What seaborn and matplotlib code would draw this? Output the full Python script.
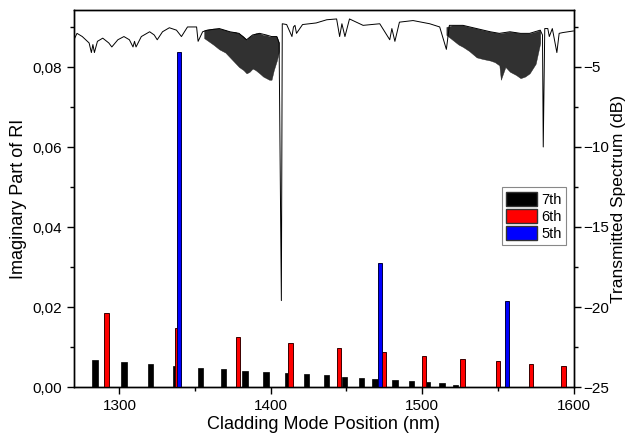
# Cladding mode imaginary RI vs transmitted spectrum
import numpy as np
import matplotlib
matplotlib.use("Agg")
import matplotlib.pyplot as plt
from matplotlib.ticker import FuncFormatter, MultipleLocator
from matplotlib.patches import Patch
import seaborn as sns

# ── Data: imaginary part of RI per cladding mode order ─────
pos_7th = [1284, 1303, 1320.5, 1337, 1353.6, 1368.8, 1383, 1397, 1411, 1423.7,
           1436.7, 1448.6, 1459.8, 1469, 1482, 1493, 1503.6, 1513, 1522]
val_7th = [0.0068, 0.0062, 0.0057, 0.0052, 0.0048, 0.0044, 0.0041, 0.0037, 0.0036, 0.0032,
           0.0029, 0.0026, 0.0023, 0.0020, 0.0017, 0.0015, 0.0013, 0.0009, 0.0005]

pos_6th = [1291.4, 1338, 1378.5, 1413, 1445, 1475, 1501.3, 1526.6, 1550, 1572, 1593.5]
val_6th = [0.0185, 0.0148, 0.0125, 0.0109, 0.0097, 0.0087, 0.0078, 0.0070, 0.0064, 0.0058, 0.0053]

pos_5th = [1339.5, 1472, 1556]
val_5th = [0.0837, 0.0310, 0.0214]

# ── Data: transmitted spectrum (dB) ────
spec_nm = [1270, 1272, 1275.5, 1280, 1281.5, 1282.5, 1283.5, 1285.5, 1289, 1293,
           1295, 1299, 1303, 1306.6, 1309, 1310, 1311, 1314.5, 1320, 1323,
           1325, 1328.5, 1333, 1337.7, 1341, 1345, 1351, 1352, 1355, 1358,
           1366, 1373, 1379, 1384, 1388, 1392.6, 1397, 1400.5, 1404, 1405.5,
           1407, 1407.6, 1410.5, 1414, 1415, 1416, 1417, 1421, 1430, 1437,
           1443.5, 1445.5, 1447, 1449, 1452, 1461, 1472, 1478.6, 1480, 1482,
           1485, 1494, 1505, 1511.6, 1516, 1518, 1527, 1536, 1545, 1551,
           1558, 1565, 1571, 1578, 1579.5, 1580, 1581, 1583, 1584, 1586,
           1589, 1590.5, 1593, 1600]
spec_db = [-3.3, -2.9, -3.1, -3.5, -4.1, -3.6, -4.1, -3.4, -3.2, -3.5,
           -3.75, -3.3, -3.1, -3.3, -3.75, -3.4, -3.75, -3.1, -2.8, -3.0,
           -3.3, -2.8, -2.55, -2.7, -3.1, -2.5, -2.5, -3.4, -2.8, -2.7,
           -2.6, -2.8, -2.9, -3.3, -3.0, -2.9, -3.0, -3.1, -3.1, -3.5,
           -19.6, -2.3, -2.35, -3.1, -2.5, -2.4, -2.9, -2.35, -2.25, -2.05,
           -2.0, -3.1, -2.3, -3.1, -2.0, -2.4, -2.3, -3.3, -2.6, -3.4,
           -2.2, -2.1, -2.3, -2.5, -3.9, -2.4, -2.4, -2.6, -2.8, -2.9,
           -2.8, -2.9, -2.9, -2.7, -3.0, -10.0, -2.6, -2.6, -3.1, -2.6,
           -4.1, -2.9, -2.85, -2.75]

# dense fringe bands (upper / lower envelope)
band1_nm = [1356, 1362, 1366, 1370, 1373, 1376, 1379, 1382, 1384, 1386,
            1388, 1390, 1392.6, 1395, 1397, 1399, 1400.5, 1402, 1404, 1405.5]
band1_hi = [-2.7, -2.6, -2.6, -2.7, -2.8, -2.8, -2.9, -3.1, -3.3, -3.1,
            -3.0, -2.9, -2.9, -3.0, -3.0, -3.1, -3.1, -3.1, -3.1, -3.5]
band1_lo = [-3.2, -3.6, -3.9, -4.1, -4.4, -4.7, -5.0, -5.2, -5.4, -5.3,
            -5.1, -5.2, -5.4, -5.6, -5.7, -5.8, -5.8, -5.2, -4.6, -4.0]

band2_nm = [1516, 1520, 1524, 1527, 1531, 1536, 1540, 1545, 1548, 1551,
            1552, 1555, 1558, 1562, 1565, 1568, 1571, 1575, 1578]
band2_hi = [-2.5, -2.4, -2.4, -2.4, -2.5, -2.6, -2.7, -2.8, -2.85, -2.9,
            -2.9, -2.85, -2.8, -2.85, -2.9, -2.9, -2.9, -2.8, -2.7]
band2_lo = [-3.0, -3.3, -3.6, -3.75, -4.0, -4.4, -4.5, -4.6, -4.7, -4.9,
            -5.8, -5.0, -5.3, -5.5, -5.7, -5.6, -5.4, -4.8, -3.5]

# ── Style ─────────────────────────────────────────────────
sns.set_style("ticks")
plt.rcParams["font.family"] = ["Liberation Sans", "DejaVu Sans"]
plt.rcParams["axes.linewidth"] = 1.0
for key in ["text.color", "axes.labelcolor", "xtick.color", "ytick.color", "axes.edgecolor"]:
    plt.rcParams[key] = "black"

fig = plt.figure(figsize=(6.29, 4.42), dpi=100)
ax = fig.add_axes([0.1176, 0.1244, 0.7942, 0.853])

# ── Bars ──────────────────────────────────────────────────
ax.bar(pos_7th, val_7th, width=3.6, color="black", edgecolor="black", lw=0.5, zorder=2)
ax.bar(pos_6th, val_6th, width=2.9, color="#ff0000", edgecolor="#3a0000", lw=0.7, zorder=3)
ax.bar(pos_5th, val_5th, width=2.7, color="#0000ff", edgecolor="#00003a", lw=0.7, zorder=4)

ax.set_xlim(1270, 1600)
ax.set_ylim(0, 0.0943)
ax.xaxis.set_major_locator(MultipleLocator(100))
ax.xaxis.set_minor_locator(MultipleLocator(50))
ax.yaxis.set_major_locator(MultipleLocator(0.02))
ax.yaxis.set_minor_locator(MultipleLocator(0.01))
ax.yaxis.set_major_formatter(FuncFormatter(lambda v, p: f"{v:.2f}".replace(".", ",")))
ax.tick_params(which="major", length=5, width=1, labelsize=11, direction="out")
ax.tick_params(which="minor", length=3, width=1, direction="out")
ax.set_xlabel("Cladding Mode Position (nm)", fontsize=13, labelpad=2)
ax.set_ylabel("Imaginary Part of RI", fontsize=13, labelpad=4)

# ── Spectrum on twin axis ─────────────────────────────────
ax2 = ax.twinx()
sns.lineplot(x=spec_nm, y=spec_db, ax=ax2, color="black", lw=0.7, sort=False)
ax2.fill_between(band1_nm, band1_lo, band1_hi, color="#1a1a1a", alpha=0.9, lw=0.3)
ax2.fill_between(band2_nm, band2_lo, band2_hi, color="#1a1a1a", alpha=0.9, lw=0.3)
ax2.set_ylim(-25, -1.44)
ax2.set_xlim(1270, 1600)
ax2.yaxis.set_major_locator(MultipleLocator(5))
ax2.yaxis.set_minor_locator(MultipleLocator(2.5))
ax2.tick_params(which="major", length=5, width=1, labelsize=11, direction="out", pad=2)
ax2.tick_params(which="minor", length=3, width=1, direction="out")
ax2.set_ylabel("Transmitted Spectrum (dB)", fontsize=12.5, labelpad=1)

# ── Legend ────────────────────────────────────────────────
handles = [Patch(facecolor="black", edgecolor="#333333", label="7th"),
           Patch(facecolor="#ff0000", edgecolor="#333333", label="6th"),
           Patch(facecolor="#0000ff", edgecolor="#333333", label="5th")]
leg = ax2.legend(handles=handles, loc="upper right", bbox_to_anchor=(0.985, 0.53),
                 fontsize=10.5, handlelength=2.1, handleheight=1.1, labelspacing=0.15,
                 handletextpad=0.3, borderpad=0.3, borderaxespad=0, fancybox=False,
                 framealpha=1, edgecolor="#888888")
leg.get_frame().set_linewidth(0.8)

fig.savefig("out.png", dpi=100)
